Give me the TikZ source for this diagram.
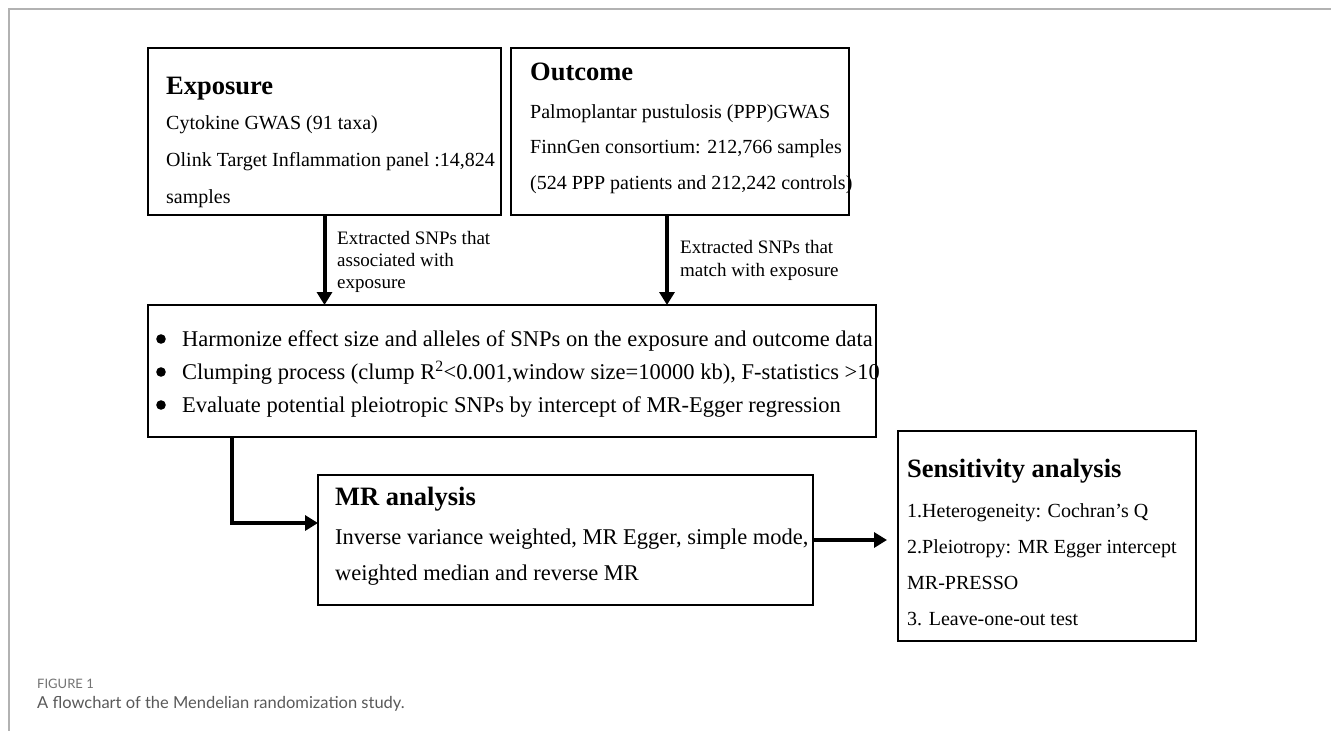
\documentclass[tikz,border=0pt]{standalone}
\usepackage{fontspec}
\setmainfont{Liberation Serif}
\newfontfamily\capfont{Lato}
\usetikzlibrary{arrows.meta, positioning}

\begin{document}
\begin{tikzpicture}[x=1pt, y=-1pt]
	\tikzstyle{Box} = [rectangle, draw=black, line width=2pt, inner sep=0pt, outer sep=0pt]
	\tikzstyle{Head} = [anchor=base west, inner sep=0pt, font=\fontsize{26.5}{30}\selectfont\bfseries]
	\tikzstyle{Line} = [anchor=base west, inner sep=0pt, font=\fontsize{20}{24}\selectfont]
	\tikzstyle{BigLine} = [anchor=base west, inner sep=0pt, font=\fontsize{22.5}{27}\selectfont]
	\tikzstyle{Note} = [anchor=base west, inner sep=0pt, font=\fontsize{19}{23}\selectfont]
	\tikzstyle{arrow} = [line width=4pt, -{Triangle[length=13pt, width=15pt]}]

	\useasboundingbox (0,0) rectangle (1331,731);
	\draw [black!30, line width=1.5pt] (9,731) -- (9,9) -- (1331,9);

	% exposure
	\node (expo) [Box, minimum width=353pt, minimum height=167pt] at (324.5,131.5) {};
	\node (expoT) [Head] at (166,94) {Exposure};
	\node (expo1) [Line] at (166,129) {Cytokine GWAS (91 taxa)};
	\node (expo2) [Line] at (166,166) {Olink Target Inflammation panel :14,824};
	\node (expo3) [Line] at (166,203) {samples};

	% outcome
	\node (outc) [Box, minimum width=338pt, minimum height=167pt] at (680,131.5) {};
	\node (outcT) [Head] at (530,80) {Outcome};
	\node (outc1) [Line] at (530,118) {Palmoplantar pustulosis (PPP)GWAS};
	\node (outc2) [Line] at (530,153) {FinnGen consortium: 212,766 samples};
	\node (outc3) [Line] at (530,189) {(524 PPP patients and 212,242 controls)};

	% harmonizing
	\node (harm) [Box, minimum width=728pt, minimum height=132pt] at (512,371) {};
	\foreach \y in {339,372,405}
		\fill (161,\y) circle (4.8pt);
	\node (harm1) [BigLine] at (182,346) {Harmonize effect size and alleles of SNPs on the exposure and outcome data};
	\node (harm2) [BigLine] at (182,379) {Clumping process (clump R\textsuperscript{2}<0.001,window size=10000 kb), F-statistics >10};
	\node (harm3) [BigLine] at (182,412) {Evaluate potential pleiotropic SNPs by intercept of MR-Egger regression};

	% arrow labels
	\node (lab1a) [Note] at (337,244) {Extracted SNPs that};
	\node (lab1b) [Note] at (337,266) {associated with};
	\node (lab1c) [Note] at (337,288) {exposure};
	\node (lab2a) [Note] at (680,253) {Extracted SNPs that};
	\node (lab2b) [Note] at (680,276) {match with exposure};

	% MR analysis
	\node (mr) [Box, minimum width=495pt, minimum height=130pt] at (565.5,540) {};
	\node (mrT) [Head] at (335,505) {MR analysis};
	\node (mr1) [BigLine] at (335,544) {Inverse variance weighted, MR Egger, simple mode,};
	\node (mr2) [BigLine] at (335,580) {weighted median and reverse MR};

	% sensitivity
	\node (sens) [Box, minimum width=298pt, minimum height=210pt] at (1047,536) {};
	\node (sensT) [Head] at (907,477) {Sensitivity analysis};
	\node (sens1) [Line] at (907,517) {1.Heterogeneity: Cochran’s Q};
	\node (sens2) [Line] at (907,553) {2.Pleiotropy: MR Egger intercept};
	\node (sens3) [Line] at (907,589) {MR-PRESSO};
	\node (sens4) [Line] at (907,625) {3. Leave-one-out test};

	% caption
	\node (fig) [anchor=base west, inner sep=0pt, text=black!55, font=\capfont\fontsize{13}{15}\selectfont] at (37,688) {FIGURE 1};
	\node (cap) [anchor=base west, inner sep=0pt, text=black!65, font=\capfont\fontsize{16.5}{20}\selectfont] at (37,708) {A flowchart of the Mendelian randomization study.};

	\draw [arrow] (expo.south) -- (expo.south |- harm.north);
	\draw [arrow] ([xshift=-13pt]outc.south) -- ([xshift=-13pt]outc.south |- harm.north);
	\draw [arrow] ([xshift=-280pt]harm.south) |- ([yshift=17pt]mr.west);
	\draw [arrow] (mr.east) -- ([xshift=-11pt]sens.west |- mr.east);
\end{tikzpicture}
\end{document}
